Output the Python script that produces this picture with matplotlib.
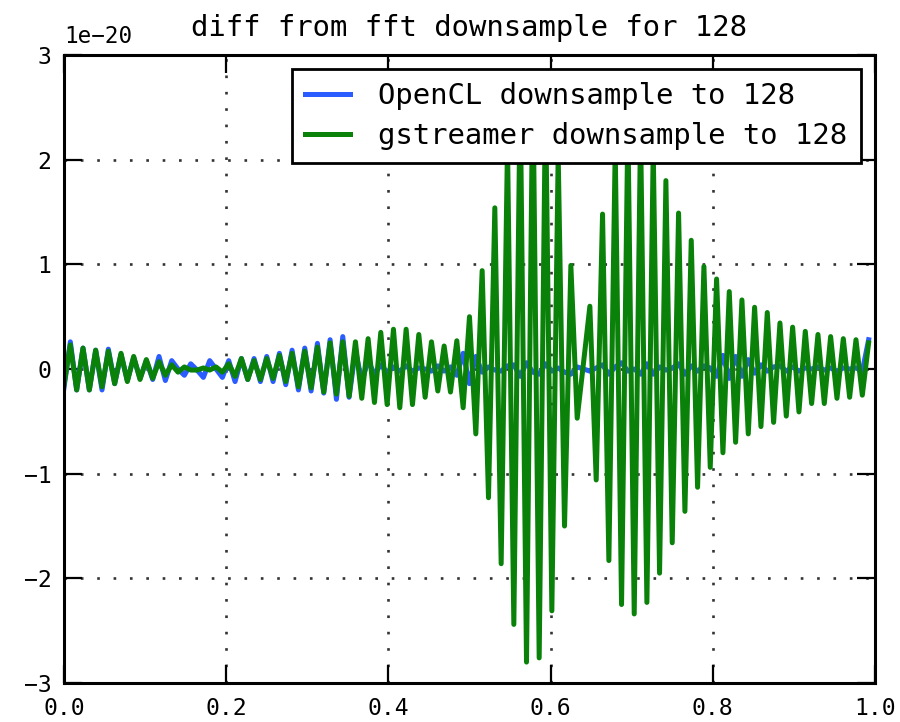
import numpy as np
import matplotlib
matplotlib.use("Agg")
import matplotlib.pyplot as plt

# 128 samples, x = i/128
n_points = 128
x = np.arange(n_points) / n_points
scale = 1e-20

# values in units of 1e-20
opencl = [
    -0.18, 0.26, -0.20, 0.20, -0.20, 0.18, -0.20, 0.19,
    -0.14, 0.14, -0.11, 0.11, -0.09, 0.08, -0.10, 0.12,
    -0.11, 0.08, 0.00, -0.06, 0.05, -0.01, -0.08, 0.08,
    0.00, -0.08, 0.08, -0.12, 0.10, -0.10, 0.10, -0.12,
    0.12, -0.12, 0.15, -0.15, 0.18, -0.20, 0.20, -0.21,
    0.245, -0.23, 0.28, -0.29, 0.31, -0.27, 0.18, -0.12,
    0.08, -0.05, 0.04, -0.03, 0.02, -0.02, 0.03, -0.02,
    0.01, 0.00, -0.02, 0.03, -0.02, 0.02, -0.06, 0.15,
    -0.14, 0.12, -0.03, 0.02, -0.01, -0.02, 0.03, 0.04,
    -0.07, 0.06, -0.03, -0.05, 0.05, -0.02, 0.01, -0.03,
    -0.05, 0.02, 0.00, -0.02, 0.01, 0.04, -0.05, 0.02,
    0.06, -0.02, 0.00, -0.05, 0.05, -0.05, 0.02, -0.01,
    0.01, 0.05, -0.05, 0.03, -0.02, 0.03, 0.01, -0.07,
    0.13, -0.09, 0.12, -0.07, 0.09, -0.04, 0.04, -0.02,
    0.02, 0.03, -0.02, 0.02, -0.02, 0.01, 0.00, 0.02,
    -0.01, 0.01, -0.02, 0.01, 0.00, 0.01, -0.02, 0.28,
]

gstreamer = [
    -0.15, 0.23, -0.20, 0.20, -0.20, 0.18, -0.17, 0.17,
    -0.14, 0.15, -0.12, 0.12, -0.10, 0.09, -0.09, 0.07,
    -0.06, 0.04, -0.03, 0.02, -0.01, -0.01, 0.01, -0.01,
    0.02, -0.03, 0.05, -0.07, 0.10, -0.10, 0.08, -0.10,
    0.10, -0.09, 0.13, -0.12, 0.15, -0.17, 0.17, -0.18,
    0.21, -0.22, 0.25, -0.24, 0.26, -0.26, 0.26, -0.28,
    0.29, -0.32, 0.35, -0.34, 0.38, -0.37, 0.38, -0.34,
    0.33, -0.27, 0.26, -0.21, 0.22, -0.22, 0.27, -0.37,
    0.50, -0.62, 0.94, -1.23, 1.54, -1.86, 2.15, -2.44,
    2.65, -2.80, 2.80, -2.76, 2.60, -2.31, 2.05, -1.50,
    0.99, -0.47, 0.06, 0.60, -1.06, 1.48, -1.83, 2.10,
    -2.25, 2.35, -2.34, 2.30, -2.23, 2.10, -1.95, 1.80,
    -1.66, 1.49, -1.36, 1.23, -1.13, 0.98, -0.94, 0.86,
    -0.80, 0.74, -0.70, 0.66, -0.62, 0.59, -0.55, 0.54,
    -0.51, 0.44, -0.45, 0.40, -0.41, 0.36, -0.33, 0.33,
    -0.33, 0.31, -0.28, 0.29, -0.27, 0.28, -0.25, 0.25,
]

x_ticks = [0.0, 0.2, 0.4, 0.6, 0.8, 1.0]
y_ticks = [-3, -2, -1, 0, 1, 2, 3]

plt.rcParams['font.family'] = ['DejaVu Sans Mono']

fig = plt.figure(figsize=(9, 7.22), dpi=100)
ax = fig.add_axes([0.0711, 0.054, 0.9011, 0.8698])

ax.plot(x, np.array(opencl) * scale, color='#2a5cff', lw=3.6,
        label='OpenCL downsample to 128')
ax.plot(x, np.array(gstreamer) * scale, color='#0a820a', lw=3.6,
        label='gstreamer downsample to 128')

ax.set_xlim(0, 1)
ax.set_ylim(-3 * scale, 3 * scale)
ax.set_xticks(x_ticks)
ax.set_yticks(np.array(y_ticks) * scale)

# dotted grid, dots about 16 px apart
ax.grid(True, color='#333333', lw=1.9, linestyle=(0, (1, 5.2)))
ax.tick_params(direction='in', top=True, right=True, length=13, width=1.6,
               labelsize=16.7, pad=9)
ax.tick_params(axis='x', pad=10)
for s in ax.spines.values():
    s.set_linewidth(2.2)
ax.yaxis.OFFSETTEXTPAD = 9
ax.yaxis.get_offset_text().set_fontsize(16.3)

ax.set_title('diff from fft downsample for 128', fontsize=20.8, pad=14)

leg = ax.legend(loc='upper right', fontsize=20.8, fancybox=False, framealpha=1,
                edgecolor='k', borderaxespad=0.5, handlelength=1.55,
                handletextpad=1.0, labelspacing=0.4, borderpad=0.45)
leg.get_frame().set_linewidth(2.0)

fig.savefig('out.png', dpi=100, facecolor='white')
